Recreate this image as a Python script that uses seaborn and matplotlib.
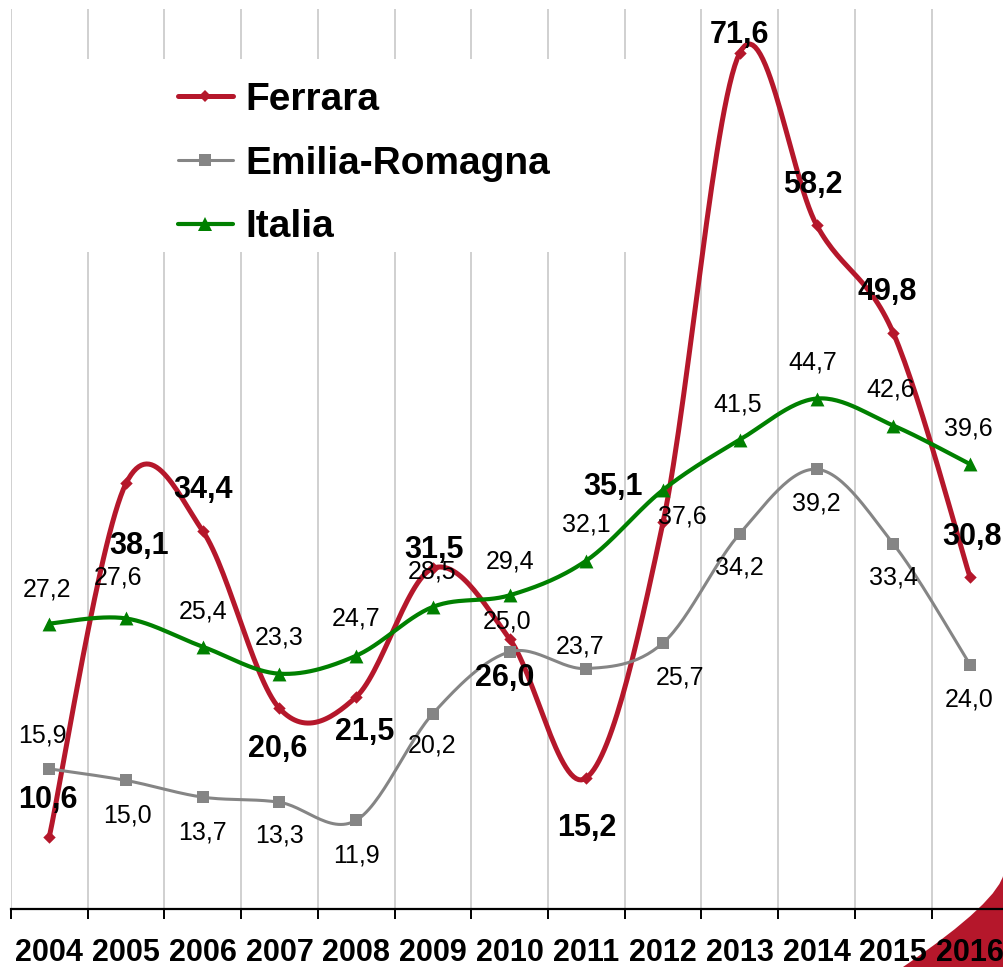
import numpy as np
import matplotlib
matplotlib.use("Agg")
import matplotlib.pyplot as plt
import seaborn as sns
from matplotlib.lines import Line2D
from matplotlib.patches import Rectangle, PathPatch
from matplotlib.path import Path

# data
years = ["2004", "2005", "2006", "2007", "2008", "2009", "2010",
         "2011", "2012", "2013", "2014", "2015", "2016"]
ferrara = [10.6, 38.1, 34.4, 20.6, 21.5, 31.5, 26.0, 15.2, 35.1, 71.6, 58.2, 49.8, 30.8]
emilia = [15.9, 15.0, 13.7, 13.3, 11.9, 20.2, 25.0, 23.7, 25.7, 34.2, 39.2, 33.4, 24.0]
italia = [27.2, 27.6, 25.4, 23.3, 24.7, 28.5, 29.4, 32.1, 37.6, 41.5, 44.7, 42.6, 39.6]

# label offsets in pixels (dx right, dy down) relative to each marker
ferrara_off = [(-1, -37), (13, 63), (0, -41), (-2, 41), (8, 35), (1, -18), (-5, 39),
               (0, 50), (-50, -35), (0, -18), (-4, -40), (-6, -41), (2, -40)]
emilia_off = [(-7, -33), (1, 35), (0, 35), (0, 33), (0, 35), (-1, 32), (-3, -30),
              (-6, -22), (17, 35), (0, 34), (0, 34), (0, 34), (-1, 35)]
italia_off = [(-2, -34), (-8, -41), (0, -35), (0, -36), (0, -37), (-1, -35), (0, -34),
              (0, -36), (19, 27), (-2, -35), (-4, -36), (-3, -36), (-2, -36)]

RED = "#B5172B"
GRAY = "#858585"
GREEN = "#008000"


def catmull(yv, steps=30):
    # smoothed line like the spreadsheet "smoothed line" option
    pts = np.column_stack([np.arange(len(yv)), yv]).astype(float)
    ext = np.vstack([pts[0], pts, pts[-1]])
    out = []
    for i in range(len(pts) - 1):
        p0, p1, p2, p3 = ext[i], ext[i + 1], ext[i + 2], ext[i + 3]
        t = np.linspace(0, 1, steps, endpoint=(i == len(pts) - 2))[:, None]
        seg = 0.5 * ((2 * p1) + (-p0 + p2) * t + (2 * p0 - 5 * p1 + 4 * p2 - p3) * t ** 2
                     + (-p0 + 3 * p1 - 3 * p2 + p3) * t ** 3)
        out.append(seg)
    return np.vstack(out)


sns.set_theme(style="white")
plt.rcParams['font.family'] = ['Liberation Sans', 'DejaVu Sans']
plt.rcParams['text.color'] = 'black'
plt.rcParams['xtick.color'] = 'black'

fig = plt.figure(figsize=(10.04, 9.67), dpi=100)

# red corner decoration, behind everything
W, H = 1004, 967
verts = [(903 / W, 0.0), (1000.5 / W, 1 - 900.5 / H), (1.0, 1 - 872 / H),
         (1.0, 0.0), (903 / W, 0.0)]
codes = [Path.MOVETO, Path.CURVE3, Path.CURVE3, Path.LINETO, Path.CLOSEPOLY]
fig.patches.append(PathPatch(Path(verts, codes), transform=fig.transFigure,
                             facecolor=RED, edgecolor="none", zorder=-5))

ax = fig.add_axes([10.9 / 1004, 58 / 967, 997.5 / 1004, 900 / 967])
ax.patch.set_alpha(0)

x = np.arange(len(years))
series = [
    ("Ferrara", ferrara, RED, 3.6, "D", 40, 3, ferrara_off, "bold", 22),
    ("Emilia-Romagna", emilia, GRAY, 2.2, "s", 72, 4, emilia_off, "normal", 18),
    ("Italia", italia, GREEN, 3.0, "^", 100, 5, italia_off, "normal", 18),
]

handles = []
for name, vals, col, lw, mk, ms, z, offs, fw, fs in series:
    curve = catmull(vals)
    sns.lineplot(x=curve[:, 0], y=curve[:, 1], sort=False, estimator=None,
                 color=col, linewidth=lw, ax=ax, zorder=z)
    sns.scatterplot(x=x, y=vals, marker=mk, s=ms, color=col, linewidth=0,
                    ax=ax, zorder=z + 0.1)
    handles.append(Line2D([], [], color=col, lw=lw, marker=mk,
                          markersize=np.sqrt(ms), markeredgewidth=0))

# labels go on top of everything
for name, vals, col, lw, mk, ms, z, offs, fw, fs in series:
    for xi, v, (dx, dy) in zip(x, vals, offs):
        ax.annotate(f"{v:.1f}".replace(".", ","), (xi, v),
                    xytext=(dx * 0.72, -dy * 0.72), textcoords="offset points",
                    ha="center", va="center", fontsize=fs, fontweight=fw,
                    color="black", zorder=10, annotation_clip=False)

ax.set_xlim(-0.5, 12.5)
ax.set_ylim(5, 75)
ax.set_xticks(x)
ax.set_xticklabels(years)
ax.set_xticks(np.arange(-0.5, 13, 1), minor=True)
ax.set_yticks([])
ax.tick_params(axis="x", which="major", length=0, pad=21, labelcolor="black")
ax.tick_params(axis="x", which="minor", length=7, width=1.4, direction="out",
               color="black", bottom=True)
for lab in ax.get_xticklabels():
    lab.set_fontfamily(['Liberation Sans Narrow', 'Liberation Sans'])
    lab.set_fontweight("bold")
    lab.set_fontsize(22)

ax.grid(False)
ax.grid(which="minor", axis="x", color="#C8C8C8", linewidth=1.2)
ax.set_axisbelow(True)
for s in ["left", "top", "right"]:
    ax.spines[s].set_visible(False)
ax.spines["bottom"].set_color("black")
ax.spines["bottom"].set_linewidth(1.6)
ax.set_xlabel("")
ax.set_ylabel("")

# white legend area that hides the grid lines
ax.add_patch(Rectangle((0.039, 0.73), 0.592, 0.214, transform=ax.transAxes,
                       facecolor="white", edgecolor="none", zorder=1))
leg = fig.legend(handles, [s[0] for s in series], loc="upper left",
                 bbox_to_anchor=(178 / 1004, 1 - 82 / 967), frameon=False,
                 prop={"family": "Liberation Sans", "weight": "bold", "size": 28},
                 handlelength=1.41, handletextpad=0.31, labelspacing=0.71,
                 borderpad=0, borderaxespad=0, numpoints=1)
for t in leg.get_texts():
    t.set_color("black")

plt.savefig("out.png", dpi=100)
plt.close()
